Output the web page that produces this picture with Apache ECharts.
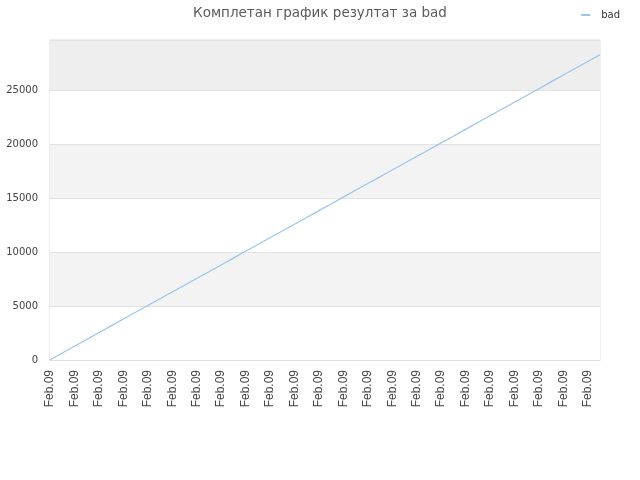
<!DOCTYPE html>
<html lang="sr">
  <head>
    <meta charset="UTF-8" />
    <title>bad</title>
    <script src="https://cdn.jsdelivr.net/npm/echarts@6/dist/echarts.min.js"></script>
  </head>
  <body style="margin: 0">
    <div id="main" style="width: 640px; height: 480px"></div>

    <script type="text/javascript">
      // data
      const categories = Array(46).fill("Feb.09");
      const badValues = [
        0, 640, 1270, 1900, 2530, 3160, 3790, 4420, 5050, 5680, 6300, 6930,
        7560, 8180, 8810, 9440, 10070, 10700, 11330, 11950, 12580, 13210,
        13840, 14460, 15090, 15720, 16350, 16970, 17600, 18230, 18860, 19490,
        20120, 20740, 21370, 22000, 22630, 23260, 23880, 24510, 25140, 25770,
        26400, 27030, 27660, 28290,
      ];
      const yTicks = [0, 5000, 10000, 15000, 20000, 25000];

      let myChart = echarts.init(document.getElementById("main"));

      let options = {
        animation: false,
        title: {
          text: "Комплетан график резултат за bad",
          left: "center",
          top: 1,
          textStyle: {
            fontFamily: "DejaVu Sans",
            fontSize: 13.5,
            fontWeight: "normal",
            color: "#5a5a5a",
          },
        },
        legend: {
          data: ["bad"],
          right: 15,
          top: 5,
          icon: "rect",
          itemWidth: 9,
          itemHeight: 2,
          itemGap: 6,
          textStyle: { fontFamily: "DejaVu Sans", fontSize: 10, color: "#333", padding: [0, 0, 0, 6] },
        },
        grid: {
          left: 50,
          right: 40,
          top: 40,
          bottom: 120,
          show: true,
          borderColor: "#ddd",
          borderWidth: 1,
        },
        xAxis: {
          type: "category",
          data: categories,
          boundaryGap: false,
          axisLine: { lineStyle: { color: "#ddd" } },
          axisTick: { show: false },
          axisLabel: {
            interval: 1,
            rotate: 90,
            margin: 10,
            fontFamily: "Liberation Sans",
            fontSize: 12,
            color: "#444",
          },
        },
        yAxis: {
          type: "value",
          min: 0,
          max: 29650,
          interval: 5000,
          axisLine: { show: false },
          axisTick: { show: false },
          axisLabel: {
            showMaxLabel: false,
            margin: 12,
            fontFamily: "DejaVu Sans",
            fontSize: 10,
            color: "#444",
            formatter: (v) => (yTicks.includes(v) ? String(v) : ""),
          },
          splitLine: { lineStyle: { color: "#e2e2e2" } },
          splitArea: {
            show: true,
            areaStyle: {
              color: ["#ffffff", "#f3f3f3", "#ffffff", "#f3f3f3", "#ffffff", "#eeeeee"],
            },
          },
        },
        series: [
          {
            name: "bad",
            type: "line",
            data: badValues,
            showSymbol: false,
            lineStyle: { color: "#99c4f0", width: 1.2 },
            itemStyle: { color: "#99c4f0" },
          },
        ],
      };

      myChart.setOption(options);
    </script>
  </body>
</html>
